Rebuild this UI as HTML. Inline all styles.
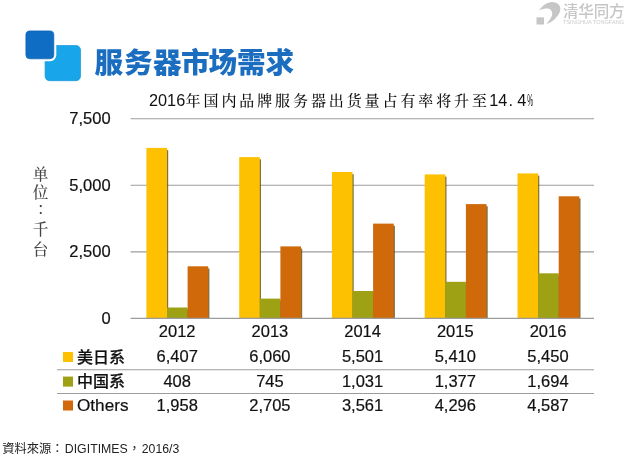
<!DOCTYPE html>
<html lang="zh-CN"><head><meta charset="utf-8"><title>服务器市场需求</title>
<style>
html,body{margin:0;padding:0;background:#fff;}
body{width:640px;height:458px;overflow:hidden;}
svg{display:block;}
.n{font-family:"Liberation Sans","Noto Sans CJK SC",sans-serif;font-size:16.5px;fill:#111;stroke:#111;stroke-width:0.2px;}
.k{font-family:"Noto Serif CJK SC","Liberation Serif",serif;}
.l{font-family:"Liberation Sans",sans-serif;}
</style></head><body>
<svg width="640" height="458" viewBox="0 0 640 458">
<rect width="640" height="458" fill="#fff"/>

<rect x="45.1" y="45.5" width="35.4" height="35.2" rx="4.5" fill="#18A5EA" stroke="#1497DC" stroke-width="0.7"/>
<rect x="23.4" y="28.4" width="32.9" height="32.9" rx="6.2" fill="#fff"/>
<rect x="25.9" y="30.9" width="27.9" height="27.9" rx="4" fill="#0F6DC3" stroke="#0C62B3" stroke-width="0.7"/>
<text x="94.6 123.9 153.1 180.9 208.6 237.1 265.6" y="72.8" font-family="'Noto Sans CJK SC','Liberation Sans',sans-serif" font-weight="900" font-size="28.6" fill="#1B6DBF">服务器市场需求</text>
<g fill="#c6c6c6"><path d="M539.2 10.5 C542 6 547 2 552 2 C557 2 560.5 5 560.4 9 C560.3 14 554 22 546.3 23.9 C550 20 552.5 16 552.2 13.5 C552 9 548 6.5 539.2 10.5 Z"/><rect x="536.5" y="17.3" width="7.5" height="7.2"/>
<text x="563" y="16.6" font-family="'Noto Sans CJK SC',sans-serif" font-weight="500" font-size="15.5" textLength="61.5" lengthAdjust="spacing">清华同方</text>
<text x="563" y="23.9" class="l" fill="#cbcbcb" font-size="4.5" textLength="61" lengthAdjust="spacingAndGlyphs">TSINGHUA TONGFANG</text></g>
<g fill="#111">
<text class="l" x="149" y="106.2" font-size="16.3">2016</text>
<text class="k" x="185.6" y="105.8" font-size="15" font-weight="500" letter-spacing="2.9">年国内品牌服务器出货量占有率将升至</text>
<text class="l" x="489.3" y="106.2" font-size="16.3">14</text>
<text class="l" x="508.6" y="106.2" font-size="16.3">.</text>
<text class="l" x="517.2" y="106.2" font-size="16.3">4</text>
<text class="l" x="527.2" y="106.2" font-size="16.3" textLength="5.8" lengthAdjust="spacingAndGlyphs">%</text>
</g>
<line x1="130.6" x2="594.0" y1="118.8" y2="118.8" stroke="#9c9c9c" stroke-width="1.1"/>
<line x1="130.6" x2="594.0" y1="185.3" y2="185.3" stroke="#9c9c9c" stroke-width="1.1"/>
<line x1="130.6" x2="594.0" y1="251.9" y2="251.9" stroke="#9c9c9c" stroke-width="1.1"/>
<text class="n" x="110.6" y="124.1" text-anchor="end">7,500</text>
<text class="n" x="110.6" y="190.6" text-anchor="end">5,000</text>
<text class="n" x="110.6" y="257.2" text-anchor="end">2,500</text>
<text class="n" x="110.6" y="323.7" text-anchor="end">0</text>
<text class="k" x="40.5" y="179.9" font-size="15.6" font-weight="500" fill="#444" text-anchor="middle">单</text>
<text class="k" x="40.5" y="198.1" font-size="15.6" font-weight="500" fill="#444" text-anchor="middle">位</text>
<text class="k" x="44.8" y="214.3" font-size="15.6" font-weight="500" fill="#444" text-anchor="middle">：</text>
<text class="k" x="40.5" y="235.1" font-size="15.6" font-weight="500" fill="#444" text-anchor="middle">千</text>
<text class="k" x="40.5" y="254.6" font-size="15.6" font-weight="500" fill="#444" text-anchor="middle">台</text>
<rect x="147.6" y="150.1" width="20.6" height="168.3" fill="#5c4e12" opacity="0.8"/>
<rect x="146.4" y="147.9" width="20.6" height="170.5" fill="#FDC101"/>
<rect x="168.2" y="309.7" width="20.6" height="8.7" fill="#5c4e12" opacity="0.8"/>
<rect x="167.0" y="307.5" width="20.6" height="10.9" fill="#9FA114"/>
<rect x="188.8" y="268.5" width="20.6" height="49.9" fill="#5c4e12" opacity="0.8"/>
<rect x="187.6" y="266.3" width="20.6" height="52.1" fill="#D0690A"/>
<rect x="240.4" y="159.3" width="20.6" height="159.1" fill="#5c4e12" opacity="0.8"/>
<rect x="239.2" y="157.1" width="20.6" height="161.3" fill="#FDC101"/>
<rect x="261.0" y="300.8" width="20.6" height="17.6" fill="#5c4e12" opacity="0.8"/>
<rect x="259.8" y="298.6" width="20.6" height="19.8" fill="#9FA114"/>
<rect x="281.6" y="248.6" width="20.6" height="69.8" fill="#5c4e12" opacity="0.8"/>
<rect x="280.4" y="246.4" width="20.6" height="72.0" fill="#D0690A"/>
<rect x="333.1" y="174.2" width="20.6" height="144.2" fill="#5c4e12" opacity="0.8"/>
<rect x="331.9" y="172.0" width="20.6" height="146.4" fill="#FDC101"/>
<rect x="353.8" y="293.2" width="20.6" height="25.2" fill="#5c4e12" opacity="0.8"/>
<rect x="352.6" y="291.0" width="20.6" height="27.4" fill="#9FA114"/>
<rect x="374.3" y="225.8" width="20.6" height="92.6" fill="#5c4e12" opacity="0.8"/>
<rect x="373.1" y="223.6" width="20.6" height="94.8" fill="#D0690A"/>
<rect x="425.9" y="176.6" width="20.6" height="141.8" fill="#5c4e12" opacity="0.8"/>
<rect x="424.7" y="174.4" width="20.6" height="144.0" fill="#FDC101"/>
<rect x="446.5" y="284.0" width="20.6" height="34.4" fill="#5c4e12" opacity="0.8"/>
<rect x="445.3" y="281.8" width="20.6" height="36.6" fill="#9FA114"/>
<rect x="467.1" y="206.3" width="20.6" height="112.1" fill="#5c4e12" opacity="0.8"/>
<rect x="465.9" y="204.1" width="20.6" height="114.3" fill="#D0690A"/>
<rect x="518.7" y="175.6" width="20.6" height="142.8" fill="#5c4e12" opacity="0.8"/>
<rect x="517.5" y="173.4" width="20.6" height="145.0" fill="#FDC101"/>
<rect x="539.3" y="275.5" width="20.6" height="42.9" fill="#5c4e12" opacity="0.8"/>
<rect x="538.1" y="273.3" width="20.6" height="45.1" fill="#9FA114"/>
<rect x="559.9" y="198.5" width="20.6" height="119.9" fill="#5c4e12" opacity="0.8"/>
<rect x="558.7" y="196.3" width="20.6" height="122.1" fill="#D0690A"/>
<line x1="130.6" x2="594.0" y1="318.4" y2="318.4" stroke="#9c9c9c" stroke-width="1.1"/>
<text class="n" x="177.2" y="337.4" text-anchor="middle">2012</text>
<text class="n" x="177.2" y="362.4" text-anchor="middle">6,407</text>
<text class="n" x="177.2" y="387.0" text-anchor="middle">408</text>
<text class="n" x="177.2" y="410.9" text-anchor="middle">1,958</text>
<text class="n" x="269.9" y="337.4" text-anchor="middle">2013</text>
<text class="n" x="269.9" y="362.4" text-anchor="middle">6,060</text>
<text class="n" x="269.9" y="387.0" text-anchor="middle">745</text>
<text class="n" x="269.9" y="410.9" text-anchor="middle">2,705</text>
<text class="n" x="362.6" y="337.4" text-anchor="middle">2014</text>
<text class="n" x="362.6" y="362.4" text-anchor="middle">5,501</text>
<text class="n" x="362.6" y="387.0" text-anchor="middle">1,031</text>
<text class="n" x="362.6" y="410.9" text-anchor="middle">3,561</text>
<text class="n" x="455.3" y="337.4" text-anchor="middle">2015</text>
<text class="n" x="455.3" y="362.4" text-anchor="middle">5,410</text>
<text class="n" x="455.3" y="387.0" text-anchor="middle">1,377</text>
<text class="n" x="455.3" y="410.9" text-anchor="middle">4,296</text>
<text class="n" x="548.0" y="337.4" text-anchor="middle">2016</text>
<text class="n" x="548.0" y="362.4" text-anchor="middle">5,450</text>
<text class="n" x="548.0" y="387.0" text-anchor="middle">1,694</text>
<text class="n" x="548.0" y="410.9" text-anchor="middle">4,587</text>
<rect x="63" y="352.0" width="10" height="10" fill="#FDC101"/>
<text class="n" x="77" y="362.6" font-weight="500" style="font-size:16px">美日系</text>
<rect x="63" y="376.6" width="10" height="10" fill="#9FA114"/>
<text class="n" x="77" y="387.2" font-weight="500" style="font-size:16px">中国系</text>
<rect x="63" y="400.5" width="10" height="10" fill="#D0690A"/>
<text class="n" x="77" y="410.9" textLength="51.5" lengthAdjust="spacingAndGlyphs">Others</text>
<line x1="57" x2="594.0" y1="369.8" y2="369.8" stroke="#9c9c9c" stroke-width="1.1"/>
<line x1="57" x2="594.0" y1="393.5" y2="393.5" stroke="#9c9c9c" stroke-width="1.1"/>
<text lang="zh-Hant" xml:lang="zh-Hant" y="453.3" font-family="'Liberation Sans','Noto Sans CJK TC',sans-serif" font-size="12.25" fill="#222"><tspan x="2.3">資料來源：</tspan><tspan x="64.8" textLength="63" lengthAdjust="spacingAndGlyphs">DIGITIMES</tspan><tspan x="128.2">，</tspan><tspan x="141.8">2016/3</tspan></text>
</svg></body></html>
